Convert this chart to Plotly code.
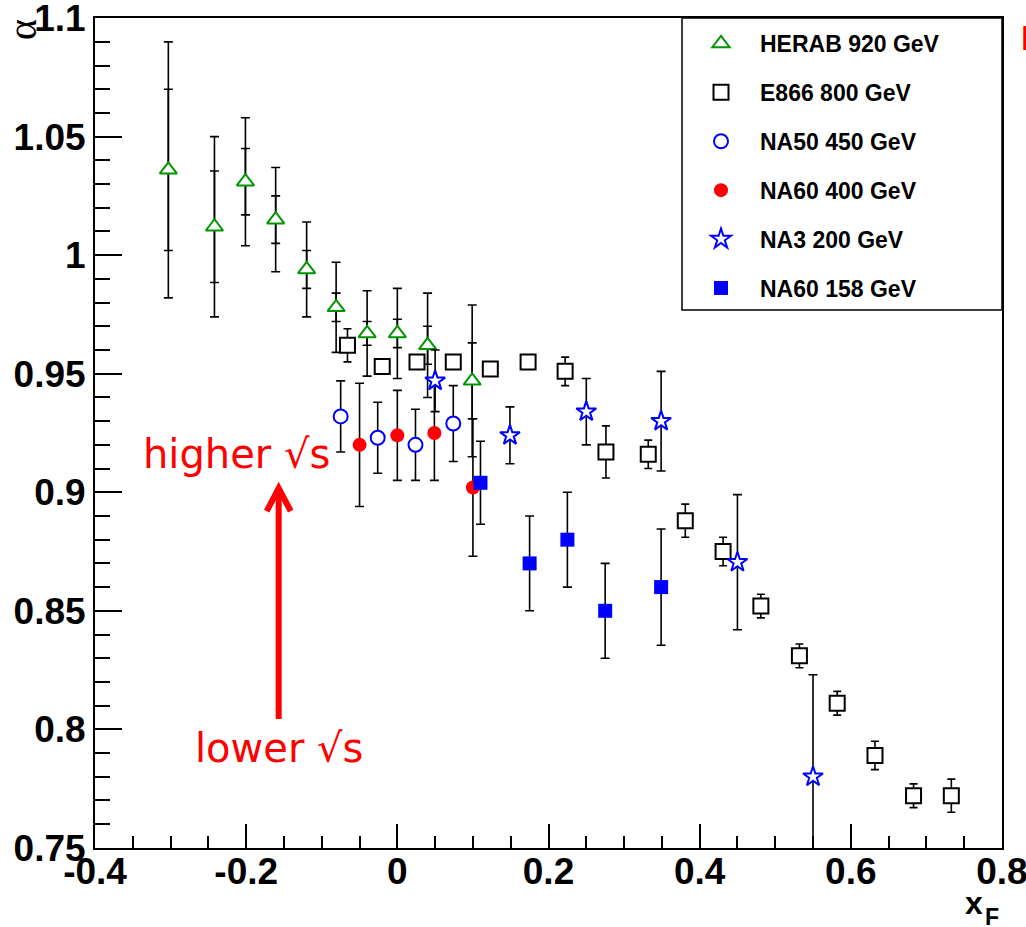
import plotly.graph_objects as go

# ---------------- data ----------------
herab_x = [-0.303, -0.242, -0.201, -0.161, -0.120, -0.081, -0.040, 0.000, 0.040, 0.099]
herab_y = [1.036, 1.012, 1.031, 1.015, 0.994, 0.978, 0.967, 0.967, 0.962, 0.947]
herab_err_tot = [0.054, 0.038, 0.027, 0.022, 0.020, 0.019, 0.018, 0.019, 0.022, 0.032]
herab_err_stat = [0.034, 0.0235, 0.014, 0.010, 0.008, 0.006, 0.005, 0.006, 0.008, 0.016]

e866_x = [-0.066, -0.020, 0.026, 0.074, 0.123, 0.173, 0.222, 0.276, 0.332, 0.381,
          0.431, 0.481, 0.532, 0.582, 0.632, 0.683, 0.733]
e866_y = [0.962, 0.953, 0.955, 0.955, 0.952, 0.955, 0.951, 0.917, 0.916, 0.888,
          0.875, 0.852, 0.831, 0.811, 0.789, 0.772, 0.772]
e866_err = [0.007, 0.003, 0.003, 0.003, 0.003, 0.003, 0.006, 0.011, 0.006, 0.007,
            0.006, 0.005, 0.005, 0.005, 0.006, 0.005, 0.007]

na50_x = [-0.075, -0.026, 0.024, 0.074]
na50_y = [0.932, 0.923, 0.920, 0.929]
na50_err = [0.015, 0.015, 0.015, 0.016]

na60_400_x = [-0.050, 0.000, 0.049, 0.100]
na60_400_y = [0.920, 0.924, 0.925, 0.902]
na60_400_err = [0.026, 0.019, 0.020, 0.029]

na3_x = [0.050, 0.149, 0.250, 0.349, 0.450, 0.550]
na3_y = [0.947, 0.924, 0.934, 0.930, 0.8705, 0.780]
na3_err = [0.013, 0.012, 0.014, 0.021, 0.0285, 0.043]

na60_158_x = [0.110, 0.175, 0.225, 0.275, 0.349]
na60_158_y = [0.904, 0.870, 0.880, 0.850, 0.860]
na60_158_err = [0.0175, 0.020, 0.020, 0.020, 0.0245]

series_names = ["HERAB 920 GeV", "E866 800 GeV", "NA50 450 GeV",
                "NA60 400 GeV", "NA3 200 GeV", "NA60 158 GeV"]

x_tick_vals = [-0.4, -0.2, 0.0, 0.2, 0.4, 0.6, 0.8]
x_tick_text = ["-0.4", "-0.2", "0", "0.2", "0.4", "0.6", "0.8"]
y_tick_vals = [0.75, 0.8, 0.85, 0.9, 0.95, 1.0, 1.05, 1.1]
y_tick_text = ["0.75", "0.8", "0.85", "0.9", "0.95", "1", "1.05", "1.1"]

# ---------------- styles ----------------
GREEN = "rgb(0,150,0)"
BLUE = "rgb(0,0,255)"
RED = "rgb(255,0,0)"
BOLD = "Liberation Sans"


def err(arr, w=4.5):
    return dict(type="data", array=arr, visible=True, color="black", thickness=1.6, width=w)


fig = go.Figure()

# HERA-B statistical (inner) error ticks
fig.add_trace(go.Scatter(
    x=herab_x, y=herab_y, mode="markers", showlegend=False, hoverinfo="skip",
    marker=dict(size=1, opacity=0),
    error_y=err(herab_err_stat)))

fig.add_trace(go.Scatter(
    x=herab_x, y=herab_y, mode="markers", name=series_names[0], legendgroup="a",
    marker=dict(symbol="triangle-up", size=15, color="white", line=dict(color=GREEN, width=2)),
    error_y=err(herab_err_tot)))

fig.add_trace(go.Scatter(
    x=e866_x, y=e866_y, mode="markers", name=series_names[1], legendgroup="b",
    marker=dict(symbol="square", size=15, color="white", line=dict(color="black", width=2)),
    error_y=err(e866_err, 4)))

fig.add_trace(go.Scatter(
    x=na50_x, y=na50_y, mode="markers", name=series_names[2], legendgroup="c",
    marker=dict(symbol="circle", size=14, color="white", line=dict(color=BLUE, width=2)),
    error_y=err(na50_err)))

fig.add_trace(go.Scatter(
    x=na60_400_x, y=na60_400_y, mode="markers", name=series_names[3], legendgroup="d",
    marker=dict(symbol="circle", size=14, color=RED, line=dict(color=RED, width=0)),
    error_y=err(na60_400_err)))

fig.add_trace(go.Scatter(
    x=na3_x, y=na3_y, mode="markers", name=series_names[4], legendgroup="e",
    marker=dict(symbol="star", size=15, color="white", line=dict(color=BLUE, width=2)),
    error_y=err(na3_err)))

fig.add_trace(go.Scatter(
    x=na60_158_x, y=na60_158_y, mode="markers", name=series_names[5], legendgroup="f",
    marker=dict(symbol="square", size=14, color=BLUE, line=dict(color=BLUE, width=0)),
    error_y=err(na60_158_err)))

L, R, T, B = 95, 24, 18, 79
W, H = 1026, 927
PW, PH = W - L - R, H - T - B


def px(xp):
    return (xp - L) / PW


def py(yp):
    return (H - B - yp) / PH


fig.update_layout(
    width=W, height=H,
    margin=dict(l=L, r=R, t=T, b=B, pad=0, autoexpand=False),
    paper_bgcolor="white", plot_bgcolor="white",
    showlegend=True,
    legend=dict(
        x=px(682), xanchor="left", y=py(22), yanchor="top",
        bgcolor="rgba(0,0,0,0)", borderwidth=0,
        font=dict(family=BOLD, size=23, color="black", weight="bold"),
        itemwidth=68, tracegroupgap=16, itemsizing="trace",
    ),
    xaxis=dict(
        range=[-0.40005, 0.80005], showgrid=False, zeroline=False, automargin=False,
        showline=True, mirror=True, linecolor="black", linewidth=2,
        ticks="inside", ticklen=24, tickwidth=1.5, tickcolor="black",
        tickmode="array", tickvals=x_tick_vals, ticktext=x_tick_text,
        ticklabelstandoff=-10, ticklabeloverflow="allow",
        tickfont=dict(family=BOLD, size=37, color="black", weight="bold"),
        minor=dict(ticks="inside", ticklen=12, tickwidth=1.5, tickcolor="black",
                   tickmode="linear", tick0=-0.4, dtick=0.05),
    ),
    yaxis=dict(
        range=[0.74995, 1.10005], showgrid=False, zeroline=False, automargin=False,
        showline=True, mirror=True, linecolor="black", linewidth=2,
        ticks="inside", ticklen=27, tickwidth=1.5, tickcolor="black",
        tickmode="array", tickvals=y_tick_vals, ticktext=y_tick_text,
        ticklabeloverflow="allow",
        tickfont=dict(family=BOLD, size=37, color="black", weight="bold"),
        minor=dict(ticks="inside", ticklen=15, tickwidth=1.5, tickcolor="black",
                   tickmode="linear", tick0=0.75, dtick=0.01),
    ),
)

# legend frame
fig.add_shape(type="rect", xref="paper", yref="paper",
              x0=px(682), x1=1.0, y0=py(310), y1=1.0,
              line=dict(color="black", width=1.5), fillcolor="rgba(0,0,0,0)", layer="above")

# red arrow (stem + chevron head)
ax0, ay_tail, ay_tip = -0.157, 0.8044, 0.9017
dx, dy = 0.0159, 0.0097
fig.add_shape(type="line", xref="x", yref="y", x0=ax0, x1=ax0, y0=ay_tail, y1=ay_tip - 0.001,
              line=dict(color=RED, width=6))
fig.add_shape(type="path", xref="x", yref="y",
              path=f"M {ax0-dx},{ay_tip-dy} L {ax0},{ay_tip} L {ax0+dx},{ay_tip-dy}",
              line=dict(color=RED, width=6))

fig.add_annotation(text="higher √s", x=-0.2123, y=0.916, xref="x", yref="y",
                   showarrow=False, font=dict(family="DejaVu Sans", size=40, color=RED))
fig.add_annotation(text="lower √s", x=-0.157, y=0.792, xref="x", yref="y",
                   showarrow=False, font=dict(family="DejaVu Sans", size=40, color=RED))

# axis titles
fig.add_annotation(text="α", x=px(-2), y=py(17), xref="paper", yref="paper",
                   showarrow=False, textangle=-90,
                   font=dict(family="Liberation Serif", size=40, color="black"))
fig.add_annotation(text="x", x=px(985), y=py(923), xref="paper", yref="paper",
                   showarrow=False,
                   font=dict(family=BOLD, size=32, color="black", weight="bold"))
fig.add_annotation(text="F", x=px(1001), y=py(932), xref="paper", yref="paper",
                   showarrow=False,
                   font=dict(family=BOLD, size=23, color="black", weight="bold"))

# cut-off red label at the right edge
fig.add_annotation(text="N", x=px(1019), y=py(16), xref="paper", yref="paper",
                   xanchor="left", showarrow=False,
                   font=dict(family=BOLD, size=35, color=RED, weight="bold"))

fig.write_html("out.html")
